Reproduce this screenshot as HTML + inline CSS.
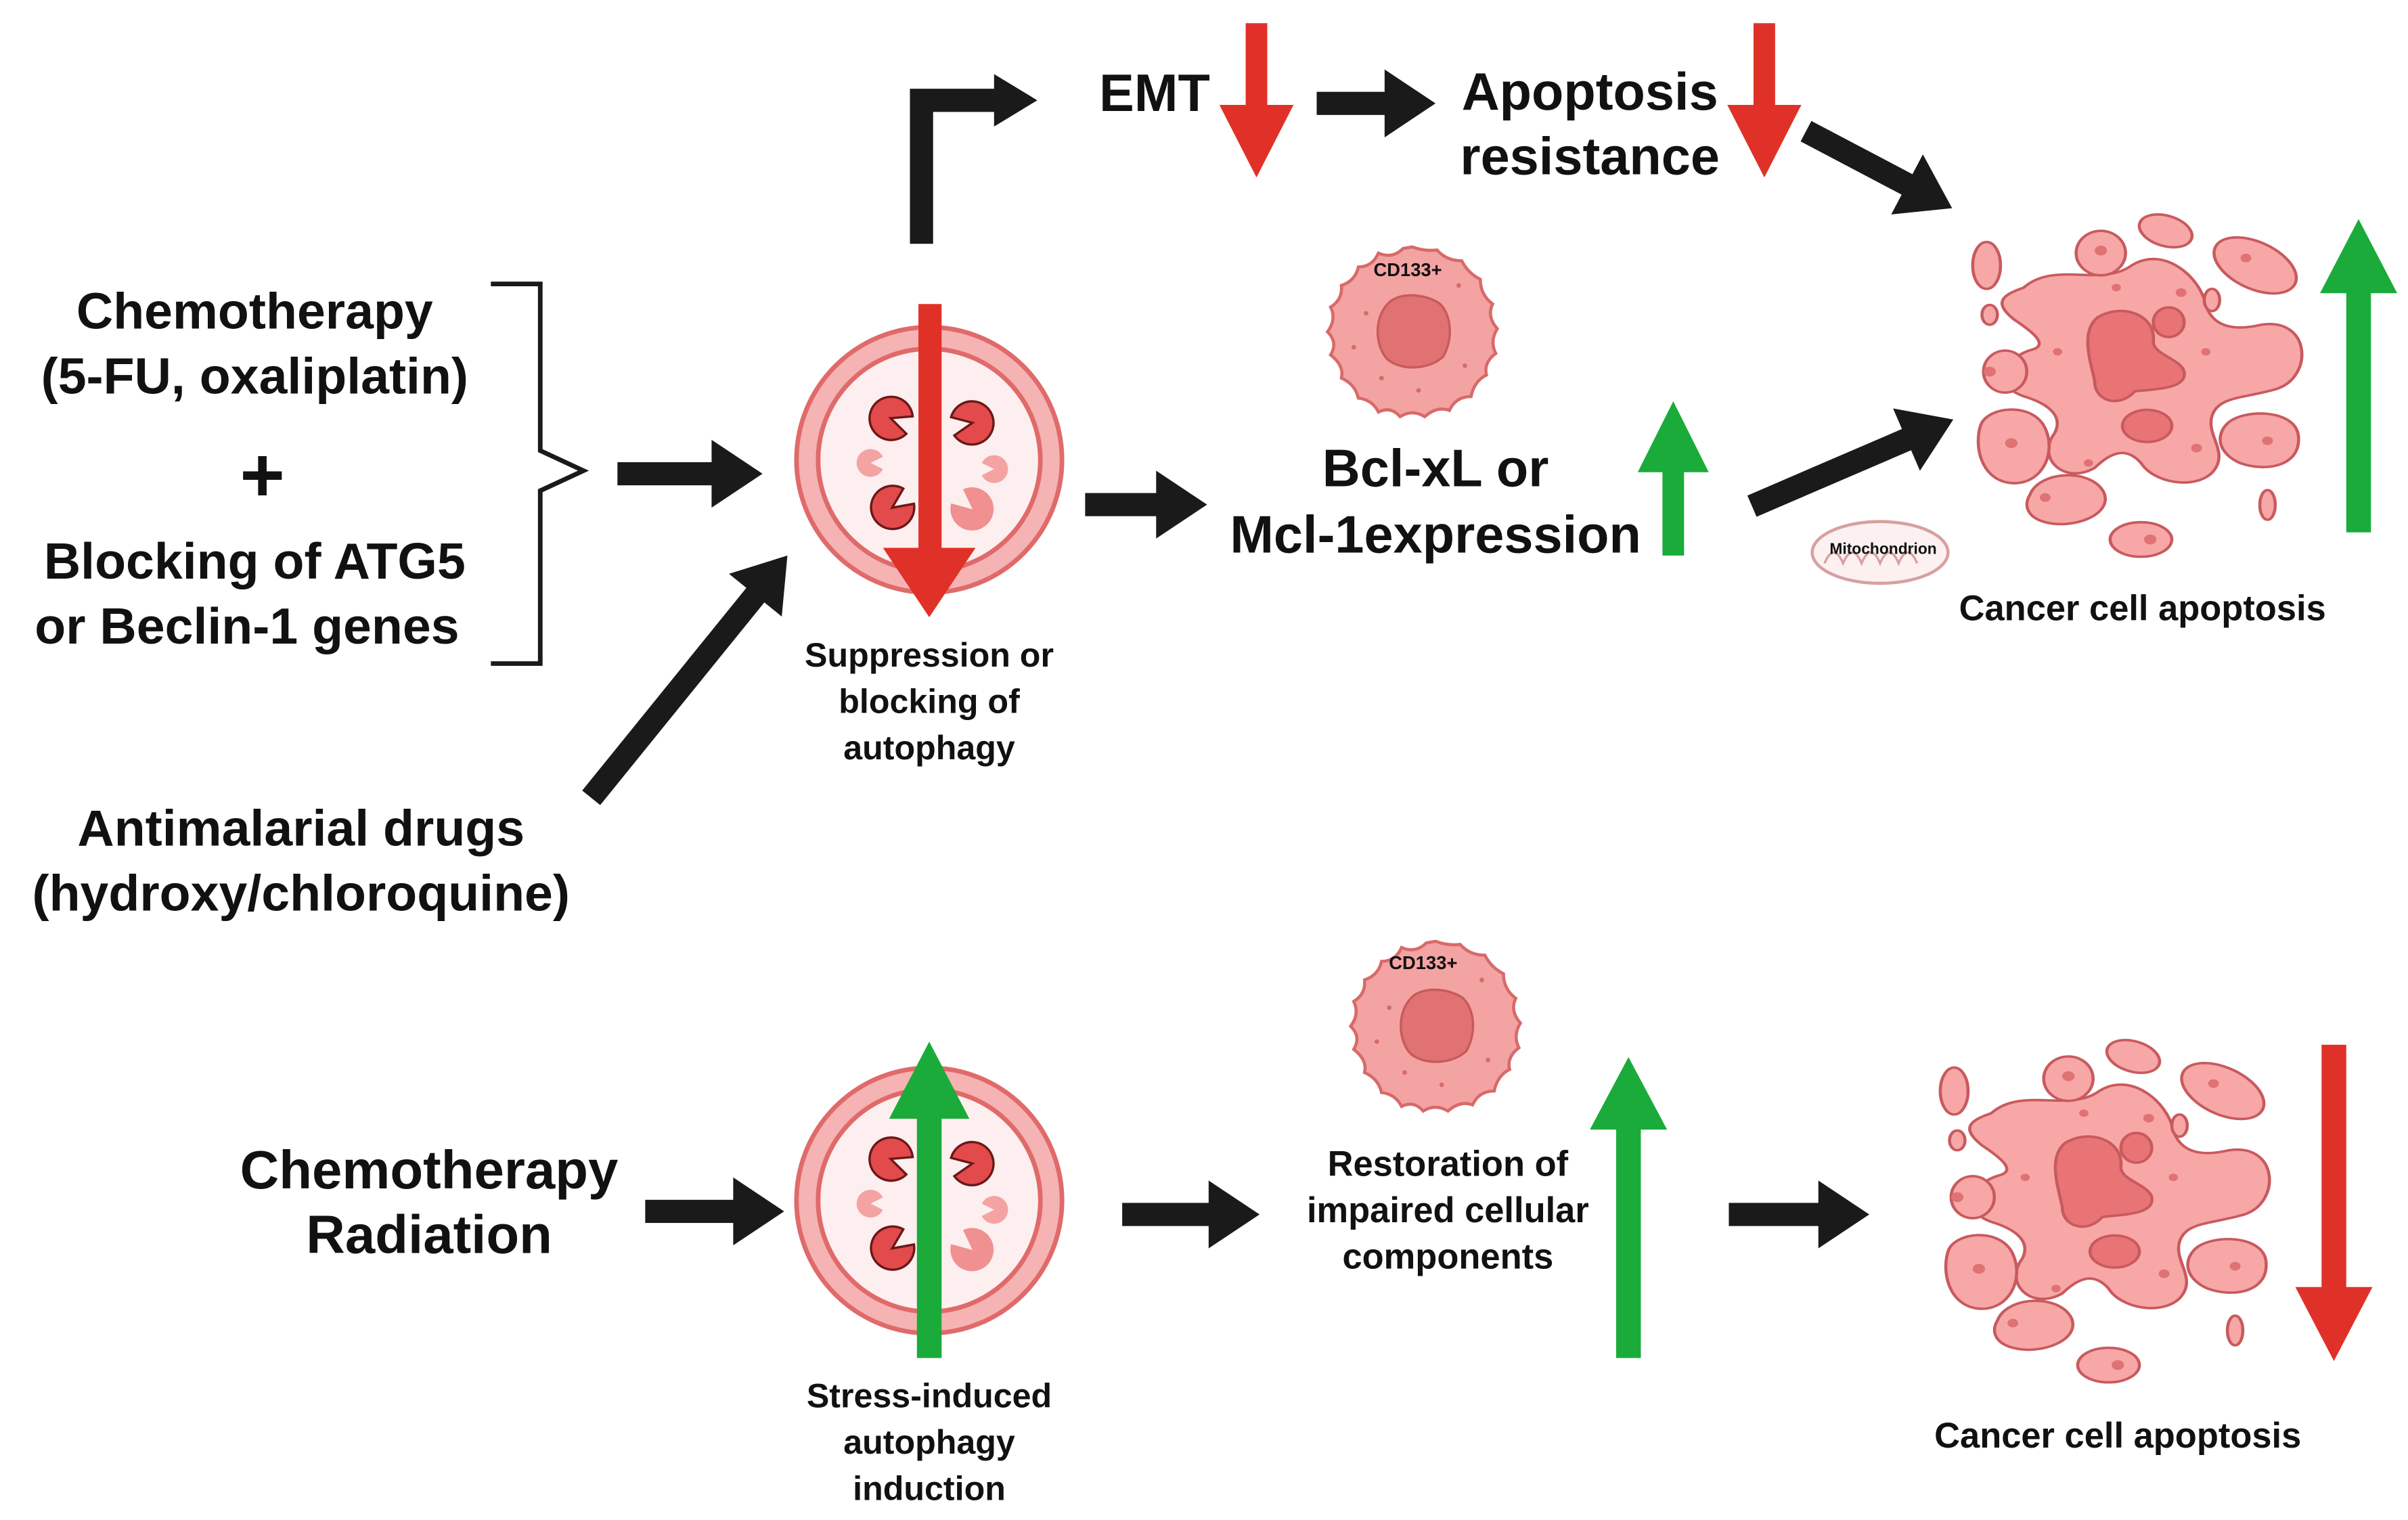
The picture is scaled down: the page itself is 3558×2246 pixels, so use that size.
<!DOCTYPE html>
<html><head><meta charset="utf-8"><style>
html,body{margin:0;padding:0;background:#fff}
svg{display:block}
text{font-family:"Liberation Sans",sans-serif;font-weight:bold;fill:#111;text-anchor:middle}
</style></head><body>
<svg width="3558" height="2246" viewBox="0 0 1560 985" preserveAspectRatio="none" xmlns="http://www.w3.org/2000/svg">
<defs>
  <polygon id="blk" points="-33,-7.5 -33,-22 0,0 -33,22 -33,7.5"/>
  <g id="auto">
    <circle r="86" fill="#f6b3b3" stroke="#e06a6a" stroke-width="3"/>
    <circle r="72" fill="#fdefef" stroke="#e06a6a" stroke-width="3"/>
    <g fill="#e24a4c" stroke="#6b1818" stroke-width="1.5">
      <path transform="translate(-25,-27) rotate(20)" d="M0,0 L13,-6 A14,14 0 1 0 13,6 Z"/>
      <path transform="translate(28,-24) rotate(170)" d="M0,0 L13,-6 A14,14 0 1 0 13,6 Z"/>
      <path transform="translate(-24,31) rotate(-35)" d="M0,0 L13,-6 A14,14 0 1 0 13,6 Z"/>
    </g>
    <path transform="translate(28,32) rotate(-140)" fill="#f09090" d="M0,0 L13,-6 A14,14 0 1 0 13,6 Z"/>
    <path transform="translate(-38,2)" fill="#f4a3a3" d="M0,0 L8,-4 A9,9 0 1 0 8,4 Z"/>
    <path transform="translate(42,6) rotate(180)" fill="#f4a3a3" d="M0,0 L8,-4 A9,9 0 1 0 8,4 Z"/>
  </g>
  <g id="cd">
    <path fill="#f4a3a3" stroke="#d86a6a" stroke-width="2" d="M0,-55 Q8,-52 16,-53 Q22,-46 32,-46 Q36,-38 44,-34 Q44,-24 52,-18 Q48,-10 55,-2 Q50,6 54,14 Q46,20 48,28 Q40,32 38,42 Q28,42 24,51 Q16,48 8,55 Q0,50 -8,55 Q-14,48 -22,52 Q-26,44 -35,43 Q-37,34 -46,30 Q-44,22 -53,15 Q-48,7 -55,0 Q-49,-8 -53,-16 Q-45,-21 -46,-30 Q-37,-33 -35,-42 Q-26,-42 -22,-51 Q-13,-47 -6,-54 Z"/>
    <path fill="#e07274" stroke="#c85a5a" stroke-width="1.5" d="M-14,-20 C-5,-26 10,-24 18,-18 C26,-10 26,6 20,16 C12,24 -6,26 -16,18 C-24,10 -26,-10 -14,-20 Z"/>
    <g fill="#d86a6a"><circle cx="-30" cy="-12" r="1.5"/><circle cx="30" cy="-30" r="1.5"/><circle cx="-20" cy="30" r="1.5"/><circle cx="34" cy="22" r="1.5"/><circle cx="-38" cy="10" r="1.5"/><circle cx="10" cy="-40" r="1.5"/><circle cx="4" cy="38" r="1.5"/></g>
  </g>
  <g id="cc" fill="#f8a7a7" stroke="#c85a5e" stroke-width="2">
    <path d="M-72,-62 C-52,-84 -22,-62 -2,-80 C18,-96 42,-72 46,-48 C50,-32 62,-26 82,-32 C114,-38 116,10 92,20 C70,28 54,26 50,42 C46,58 62,72 50,88 C38,102 12,96 4,80 C-6,66 -16,72 -26,84 C-46,98 -64,76 -52,56 C-46,42 -56,32 -72,26 C-94,16 -84,-6 -66,-12 C-56,-16 -66,-26 -78,-36 C-92,-50 -86,-56 -72,-62 Z"/>
    <path fill="#e87476" d="M-24,-38 C-8,-50 14,-40 12,-18 C12,-8 30,-4 32,6 C34,20 14,20 0,22 C-10,36 -26,30 -26,14 C-28,0 -36,-26 -24,-38 Z"/>
    <ellipse fill="#e87476" cx="22" cy="-34" rx="10" ry="12"/>
    <ellipse fill="#e87476" cx="8" cy="50" rx="16" ry="13"/>
    <ellipse cx="-22" cy="-90" rx="16" ry="18"/>
    <ellipse cx="20" cy="-108" rx="18" ry="12" transform="rotate(25 20 -108)"/>
    <ellipse cx="78" cy="-80" rx="30" ry="18" transform="rotate(35 78 -80)"/>
    <ellipse cx="-96" cy="-80" rx="9" ry="19"/>
    <ellipse cx="-94" cy="-40" rx="5" ry="8"/>
    <ellipse cx="-84" cy="6" rx="14" ry="17"/>
    <ellipse cx="50" cy="-52" rx="5" ry="9"/>
    <path d="M-100,50 C-96,34 -66,30 -58,52 C-50,74 -62,100 -82,96 C-100,92 -104,66 -100,50 Z"/>
    <path d="M60,48 C70,36 104,36 106,58 C108,82 86,88 68,80 C54,72 52,58 60,48 Z"/>
    <path d="M-68,106 C-62,86 -28,84 -20,104 C-14,122 -40,134 -58,128 C-70,124 -72,114 -68,106 Z"/>
    <ellipse cx="4" cy="142" rx="20" ry="14"/>
    <ellipse cx="86" cy="114" rx="5" ry="12"/>
    <g fill="#e07274" stroke="none"><circle cx="-94" cy="6" r="4"/><circle cx="-80" cy="64" r="4"/><circle cx="86" cy="62" r="3.5"/><circle cx="-58" cy="108" r="3.5"/><circle cx="10" cy="142" r="4"/><circle cx="-22" cy="-92" r="4"/><circle cx="72" cy="-86" r="3.5"/><circle cx="-50" cy="-10" r="3"/><circle cx="46" cy="-10" r="3"/><circle cx="40" cy="68" r="3.5"/><circle cx="-30" cy="80" r="3"/><circle cx="-12" cy="-62" r="3"/><circle cx="30" cy="-58" r="3.5"/></g>
  </g>
</defs>

<!-- top row -->
<path d="M597,158 V65 H650" fill="none" stroke="#1a1a1a" stroke-width="15"/>
<polygon points="644,48 672,65 644,82" fill="#1a1a1a"/>
<text x="748" y="72" font-size="34">EMT</text>
<polygon fill="#e03128" points="807,15 821,15 821,68 838,68 814,115 790,68 807,68"/>
<g fill="#1a1a1a"><use href="#blk" transform="translate(930,67)"/><rect x="853" y="59.5" width="46" height="15"/></g>
<text x="1030" y="71" font-size="34">Apoptosis</text>
<text x="1030" y="113" font-size="34">resistance</text>
<polygon fill="#e03128" points="1136,15 1150,15 1150,68 1167,68 1143,115 1119,68 1136,68"/>
<g fill="#1a1a1a" transform="translate(1170,85) rotate(27.8)"><rect x="0" y="-7.5" width="76" height="15"/><use href="#blk" transform="translate(107,0)"/></g>

<use href="#cc" transform="translate(1383,236) scale(1,0.8)"/>
<polygon fill="#1aab3a" points="1520,345 1536,345 1536,190 1553,190 1528,142 1503,190 1520,190"/>
<text x="1388" y="402" font-size="23">Cancer cell apoptosis</text>
<ellipse cx="1218" cy="358" rx="44" ry="20" fill="#fdf0f0" stroke="#d8a0a0" stroke-width="2"/>
<path d="M1182,365 q6,-14 12,0 q6,-14 12,0 q6,-14 12,0 q6,-14 12,0 q6,-14 12,0" fill="none" stroke="#d8a0a0" stroke-width="1.5"/>
<text x="1220" y="359" font-size="10">Mitochondrion</text>
<g fill="#1a1a1a" transform="translate(1135,328) rotate(-23.3)"><rect x="0" y="-7.5" width="111" height="15"/><use href="#blk" transform="translate(142,0)"/></g>

<use href="#cd" transform="translate(915,215)"/>
<text x="912" y="179" font-size="12">CD133+</text>
<text x="930" y="315" font-size="34">Bcl-xL or</text>
<text x="930" y="358" font-size="34">Mcl-1expression</text>
<polygon fill="#1aab3a" points="1077,360 1091,360 1091,306 1107,306 1084,260 1061,306 1077,306"/>
<g fill="#1a1a1a"><rect x="703" y="319.5" width="48" height="15"/><use href="#blk" transform="translate(782,327)"/></g>

<use href="#auto" transform="translate(602,298)"/>
<polygon fill="#e03128" points="595,197 610,197 610,355 632,355 602,400 572,355 595,355"/>
<text x="602" y="432" font-size="22">Suppression or</text>
<text x="602" y="462" font-size="22">blocking of</text>
<text x="602" y="492" font-size="22">autophagy</text>

<text x="165" y="213" font-size="33">Chemotherapy</text>
<text x="165" y="255" font-size="33">(5-FU, oxaliplatin)</text>
<text x="170" y="325" font-size="50">+</text>
<text x="165" y="375" font-size="33">Blocking of ATG5</text>
<text x="160" y="417" font-size="33">or Beclin-1 genes</text>
<path d="M318,184 H350 V292 L378,305 L350,318 V430 H318" fill="none" stroke="#1a1a1a" stroke-width="3"/>
<g fill="#1a1a1a"><rect x="400" y="299.5" width="62" height="15"/><use href="#blk" transform="translate(494,307)"/></g>
<g fill="#1a1a1a" transform="translate(383,517) rotate(-51)"><rect x="0" y="-7.5" width="171" height="15"/><use href="#blk" transform="translate(202,0)"/></g>
<text x="195" y="548" font-size="33">Antimalarial drugs</text>
<text x="195" y="590" font-size="33">(hydroxy/chloroquine)</text>

<!-- bottom row -->
<text x="278" y="770" font-size="35">Chemotherapy</text>
<text x="278" y="812" font-size="35">Radiation</text>
<g fill="#1a1a1a"><rect x="418" y="777.5" width="58" height="15"/><use href="#blk" transform="translate(508,785)"/></g>
<use href="#auto" transform="translate(602,778)"/>
<polygon fill="#1aab3a" points="594,880 610,880 610,725 628,725 602,675 576,725 594,725"/>
<text x="602" y="912" font-size="22">Stress-induced</text>
<text x="602" y="942" font-size="22">autophagy</text>
<text x="602" y="972" font-size="22">induction</text>
<g fill="#1a1a1a"><rect x="727" y="779.5" width="57" height="15"/><use href="#blk" transform="translate(816,787)"/></g>
<use href="#cd" transform="translate(930,665)"/>
<text x="922" y="628" font-size="12">CD133+</text>
<text x="938" y="762" font-size="23">Restoration of</text>
<text x="938" y="792" font-size="23">impaired cellular</text>
<text x="938" y="822" font-size="23">components</text>
<polygon fill="#1aab3a" points="1047,880 1063,880 1063,732 1080,732 1055,685 1030,732 1047,732"/>
<g fill="#1a1a1a"><rect x="1120" y="779.5" width="59" height="15"/><use href="#blk" transform="translate(1211,787)"/></g>
<use href="#cc" transform="translate(1362,771) scale(1,0.8)"/>
<polygon fill="#e03128" points="1504,677 1520,677 1520,834 1537,834 1512,882 1487,834 1504,834"/>
<text x="1372" y="938" font-size="23">Cancer cell apoptosis</text>
</svg>
</body></html>
